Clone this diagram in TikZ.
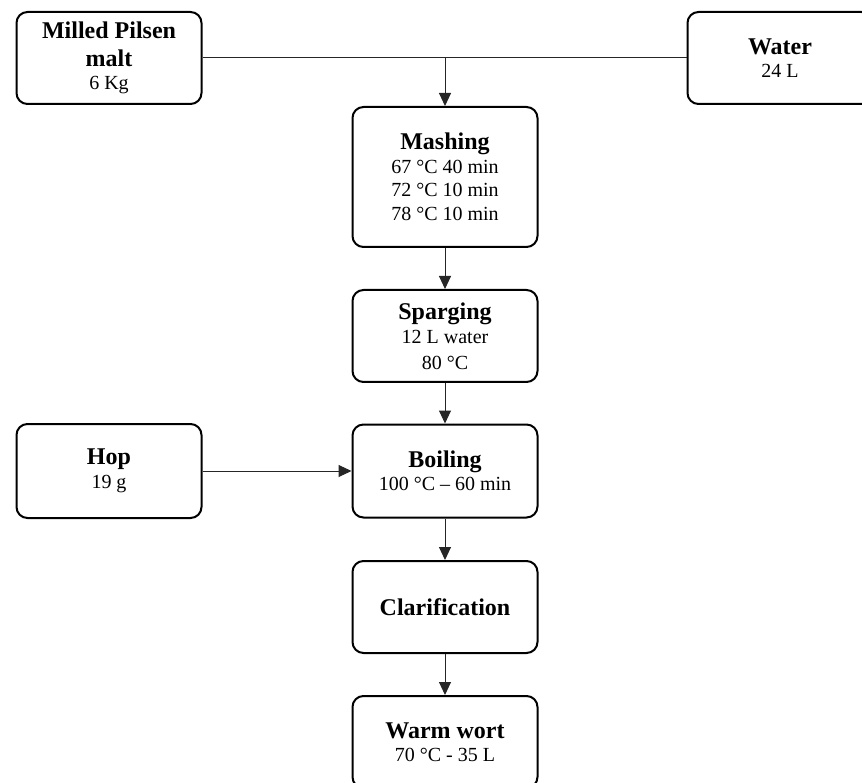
\documentclass[tikz,border=0pt]{standalone}
\usepackage{fontspec}
\setmainfont{Liberation Serif}
\usetikzlibrary{arrows.meta}
\tikzset{
  box/.style={draw=black, line width=2pt, rounded corners=11pt, minimum width=185pt,
    minimum height=92pt, inner sep=0pt, align=center, fill=white,
    font=\fontsize{20}{23.5}\selectfont},
  conn/.style={draw=black!85, line width=1pt},
  arr/.style={conn, -{Triangle[length=13pt,width=12pt]}},
}
\newcommand{\ttl}[1]{{\fontsize{24}{26}\selectfont\bfseries #1}}
\begin{document}
\begin{tikzpicture}[x=1pt,y=-1pt]
\useasboundingbox (0,0) rectangle (862,783);
\clip (0,0) rectangle (862,783);
\node[box] (malt) at (109,58) {\ttl{Milled Pilsen}\\[4pt]\ttl{malt}\\6 Kg};
\node[box] (water) at (780,58) {\ttl{Water}\\24 L};
\node[box, minimum height=140pt] (mash) at (445,177) {\ttl{Mashing}\\67 °C 40 min\\72 °C 10 min\\78 °C 10 min};
\node[box] (sparg) at (445,336) {\ttl{Sparging}\\[1pt]12 L water\\[2pt]80 °C};
\node[box, minimum height=94pt] (hop) at (109,471) {\ttl{Hop}\\19 g};
\node[box, minimum height=93pt] (boil) at (445,471) {\ttl{Boiling}\\100 °C – 60 min};
\node[box] (clar) at (445,607) {\ttl{Clarification}};
\node[box, minimum height=92pt, text depth=0pt] (wort) at (445,742) {\ttl{Warm wort}\\70 °C - 35 L};
\coordinate (j) at (mash.north |- malt.east);
\draw[conn] (malt.east) -- (water.west);
\draw[arr] (j) -- (mash.north);
\draw[arr] (mash.south) -- (sparg.north);
\draw[arr] (sparg.south) -- (boil.north);
\draw[arr] (hop.east) -- (boil.west);
\draw[arr] (boil.south) -- (clar.north);
\draw[arr] (clar.south) -- (wort.north);
\end{tikzpicture}
\end{document}
